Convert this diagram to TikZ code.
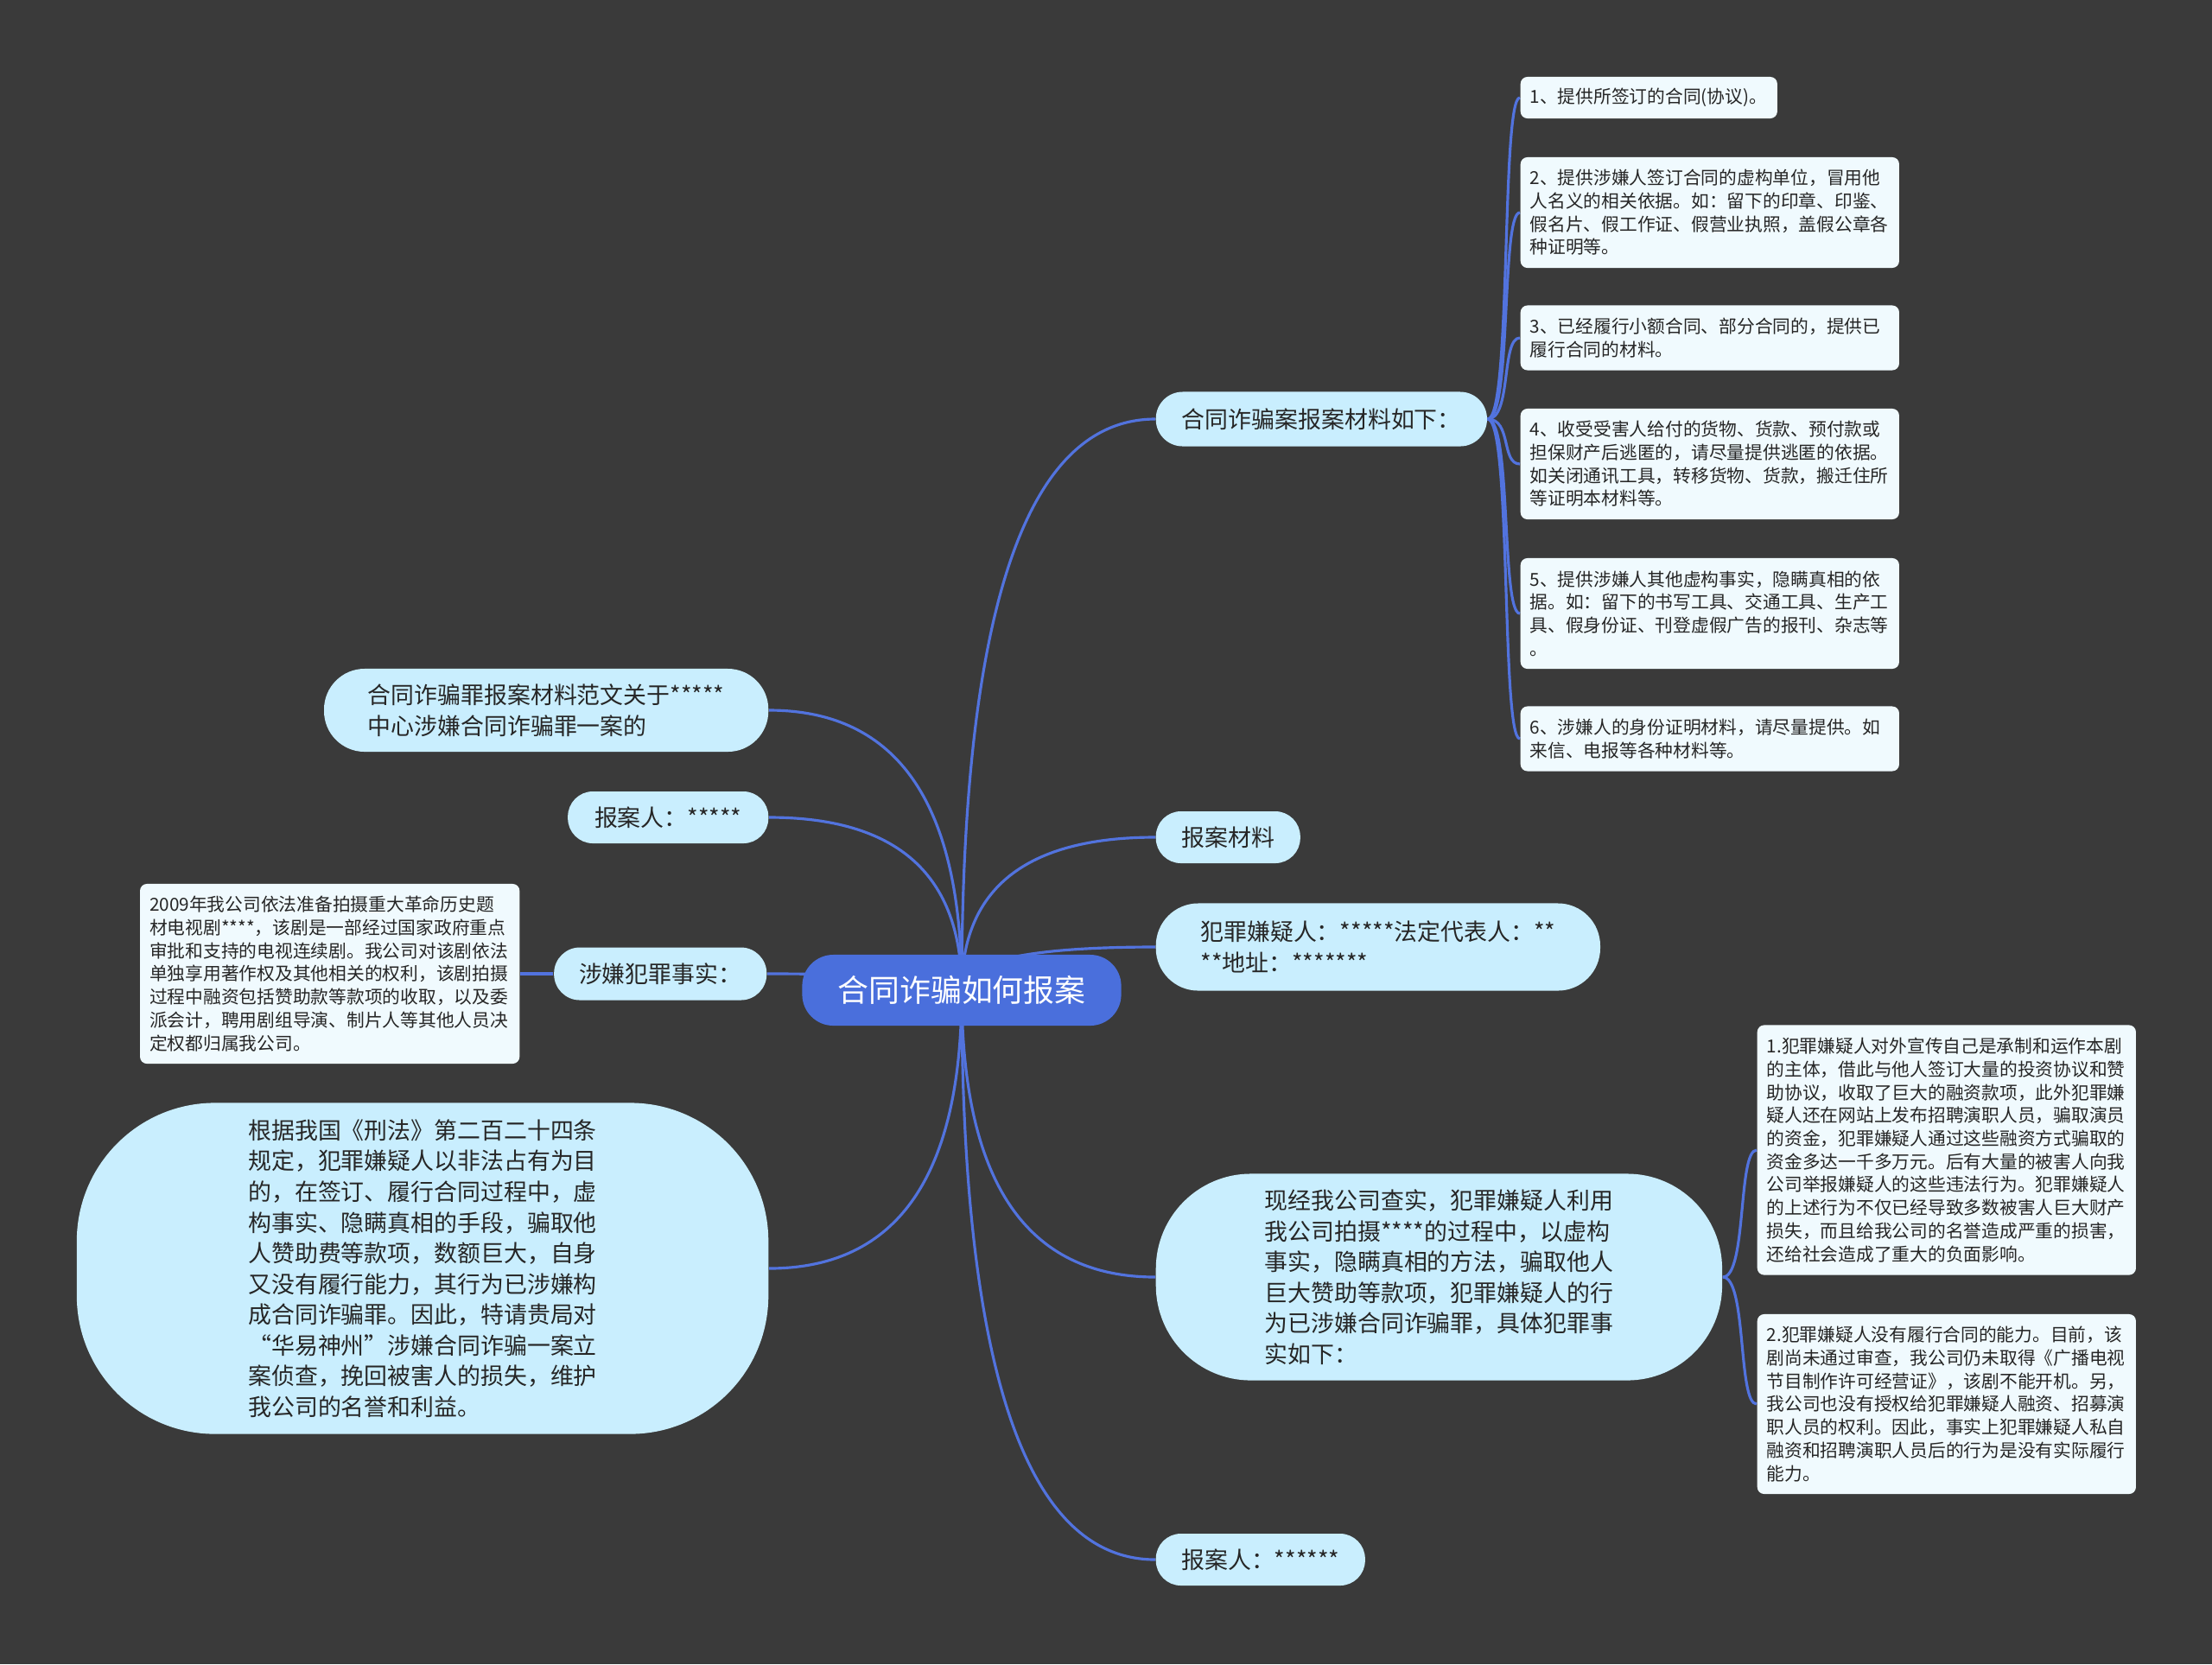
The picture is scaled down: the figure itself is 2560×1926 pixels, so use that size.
\documentclass[tikz,border=0pt]{standalone}
\usepackage{fontspec}
\setmainfont{Noto Sans CJK SC}
\usepackage{tikz}
\usetikzlibrary{calc}
\definecolor{bgdark}{HTML}{3A3A3A}
\definecolor{linkblue}{HTML}{5273DE}
\definecolor{rootblue}{HTML}{4A6FDC}
\definecolor{midfill}{HTML}{C9EEFE}
\definecolor{leaffill}{HTML}{F0FAFE}
\definecolor{ink}{HTML}{262626}
\pgfdeclarelayer{bg}
\pgfdeclarelayer{edges}
\pgfsetlayers{bg,edges,main}
\newcommand{\rootlink}[2]{\draw[link] (#1) .. controls ($(#1)!0.667!(#1|-#2)$) and ($(#2)!0.667!(#1|-#2)$) .. (#2);}

\begin{document}
\begin{tikzpicture}[x=0.01cm,y=-0.01cm,
  link/.style={linkblue,line width=0.9pt},
  leaf/.style={fill=leaffill,text=ink,rounded corners=0.08cm,inner xsep=0.11cm,inner ysep=0pt,align=left,anchor=west,font=\fontsize{5.9pt}{7.6pt}\selectfont},
  topic/.style={fill=midfill,text=ink,inner sep=0pt,align=left,anchor=west,font=\fontsize{7.65pt}{10.1pt}\selectfont}]
\begin{pgfonlayer}{bg}
\fill[bgdark] (0,0) rectangle (2560,1926);
\end{pgfonlayer}
\useasboundingbox (0,0) rectangle (2560,1926);

\node[fill=rootblue,text=white,rounded corners=0.36cm,minimum width=3.69cm,minimum height=0.82cm,font=\fontsize{10.2pt}{12pt}\selectfont] (root) at (1113,1146) {合同诈骗如何报案};

\node[topic,minimum width=3.83cm,minimum height=0.63cm,rounded corners=0.31cm] (m1) at (1337,485) {合同诈骗案报案材料如下：};
\node[topic,minimum width=1.67cm,minimum height=0.60cm,rounded corners=0.29cm] (m2) at (1337,969) {报案材料};
\node[topic,minimum width=5.14cm,minimum height=1.01cm,rounded corners=0.49cm] (m3) at (1337,1096) {犯罪嫌疑人：*****法定代表人：**\\**地址：*******};
\node[topic,minimum width=6.55cm,minimum height=2.39cm,rounded corners=1.1cm] (m4) at (1337,1478) {现经我公司查实，犯罪嫌疑人利用\\我公司拍摄****的过程中，以虚构\\事实，隐瞒真相的方法，骗取他人\\巨大赞助等款项，犯罪嫌疑人的行\\为已涉嫌合同诈骗罪，具体犯罪事\\实如下：};
\node[topic,minimum width=2.42cm,minimum height=0.60cm,rounded corners=0.29cm] (m5) at (1337,1805) {报案人：******};

\node[topic,anchor=east,minimum width=5.14cm,minimum height=0.96cm,rounded corners=0.47cm] (n1) at (890,822) {合同诈骗罪报案材料范文关于*****\\中心涉嫌合同诈骗罪一案的};
\node[topic,anchor=east,minimum width=2.32cm,minimum height=0.60cm,rounded corners=0.29cm] (n2) at (890,946) {报案人：*****};
\node[topic,anchor=east,minimum width=2.46cm,minimum height=0.61cm,rounded corners=0.3cm] (n3) at (888,1127) {涉嫌犯罪事实：};
\node[topic,anchor=east,minimum width=8.0cm,minimum height=3.83cm,rounded corners=1.6cm] (n4) at (890,1468) {根据我国《刑法》第二百二十四条\\规定，犯罪嫌疑人以非法占有为目\\的，在签订、履行合同过程中，虚\\构事实、隐瞒真相的手段，骗取他\\人赞助费等款项，数额巨大，自身\\又没有履行能力，其行为已涉嫌构\\成合同诈骗罪。因此，特请贵局对\\“华易神州”涉嫌合同诈骗一案立\\案侦查，挽回被害人的损失，维护\\我公司的名誉和利益。};

\node[leaf,text width=2.75cm,minimum height=0.48cm] (l1) at (1759,113) {1、提供所签订的合同(协议)。};
\node[leaf,text width=4.16cm,minimum height=1.28cm] (l2) at (1759,246) {2、提供涉嫌人签订合同的虚构单位，冒用他\\人名义的相关依据。如：留下的印章、印鉴、\\假名片、假工作证、假营业执照，盖假公章各\\种证明等。};
\node[leaf,text width=4.16cm,minimum height=0.75cm] (l3) at (1759,391) {3、已经履行小额合同、部分合同的，提供已\\履行合同的材料。};
\node[leaf,text width=4.16cm,minimum height=1.28cm] (l4) at (1759,537) {4、收受受害人给付的货物、货款、预付款或\\担保财产后逃匿的，请尽量提供逃匿的依据。\\如关闭通讯工具，转移货物、货款，搬迁住所\\等证明本材料等。};
\node[leaf,text width=4.16cm,minimum height=1.28cm] (l5) at (1759,710) {5、提供涉嫌人其他虚构事实，隐瞒真相的依\\据。如：留下的书写工具、交通工具、生产工\\具、假身份证、刊登虚假广告的报刊、杂志等\\。};
\node[leaf,text width=4.16cm,minimum height=0.75cm] (l6) at (1759,855) {6、涉嫌人的身份证明材料，请尽量提供。如\\来信、电报等各种材料等。};

\node[leaf,text width=4.16cm,minimum height=2.89cm] (f1) at (2033,1331) {1.犯罪嫌疑人对外宣传自己是承制和运作本剧\\的主体，借此与他人签订大量的投资协议和赞\\助协议，收取了巨大的融资款项，此外犯罪嫌\\疑人还在网站上发布招聘演职人员，骗取演员\\的资金，犯罪嫌疑人通过这些融资方式骗取的\\资金多达一千多万元。后有大量的被害人向我\\公司举报嫌疑人的这些违法行为。犯罪嫌疑人\\的上述行为不仅已经导致多数被害人巨大财产\\损失，而且给我公司的名誉造成严重的损害，\\还给社会造成了重大的负面影响。};
\node[leaf,text width=4.16cm,minimum height=2.08cm] (f2) at (2033,1625) {2.犯罪嫌疑人没有履行合同的能力。目前，该\\剧尚未通过审查，我公司仍未取得《广播电视\\节目制作许可经营证》，该剧不能开机。另，\\我公司也没有授权给犯罪嫌疑人融资、招募演\\职人员的权利。因此，事实上犯罪嫌疑人私自\\融资和招聘演职人员后的行为是没有实际履行\\能力。};

\node[leaf,anchor=east,text width=4.17cm,minimum height=2.08cm] (fact) at (602,1127) {2009年我公司依法准备拍摄重大革命历史题\\材电视剧****，该剧是一部经过国家政府重点\\审批和支持的电视连续剧。我公司对该剧依法\\单独享用著作权及其他相关的权利，该剧拍摄\\过程中融资包括赞助款等款项的收取，以及委\\派会计，聘用剧组导演、制片人等其他人员决\\定权都归属我公司。};

\begin{pgfonlayer}{edges}
\rootlink{root.center}{m1.west}
\rootlink{root.center}{m2.west}
\rootlink{root.center}{m3.west}
\rootlink{root.center}{m4.west}
\rootlink{root.center}{m5.west}
\rootlink{root.center}{n1.east}
\rootlink{root.center}{n2.east}
\rootlink{root.center}{n3.east}
\rootlink{root.center}{n4.east}
\foreach \i in {1,...,6}
  \draw[link] (m1.east) .. controls +(28,0) and +(-22,0) .. (l\i.west);
\foreach \i in {1,2}
  \draw[link] (m4.east) .. controls +(28,0) and +(-22,0) .. (f\i.west);
\draw[link] (n3.west) -- (fact.east);
\end{pgfonlayer}
\end{tikzpicture}
\end{document}
